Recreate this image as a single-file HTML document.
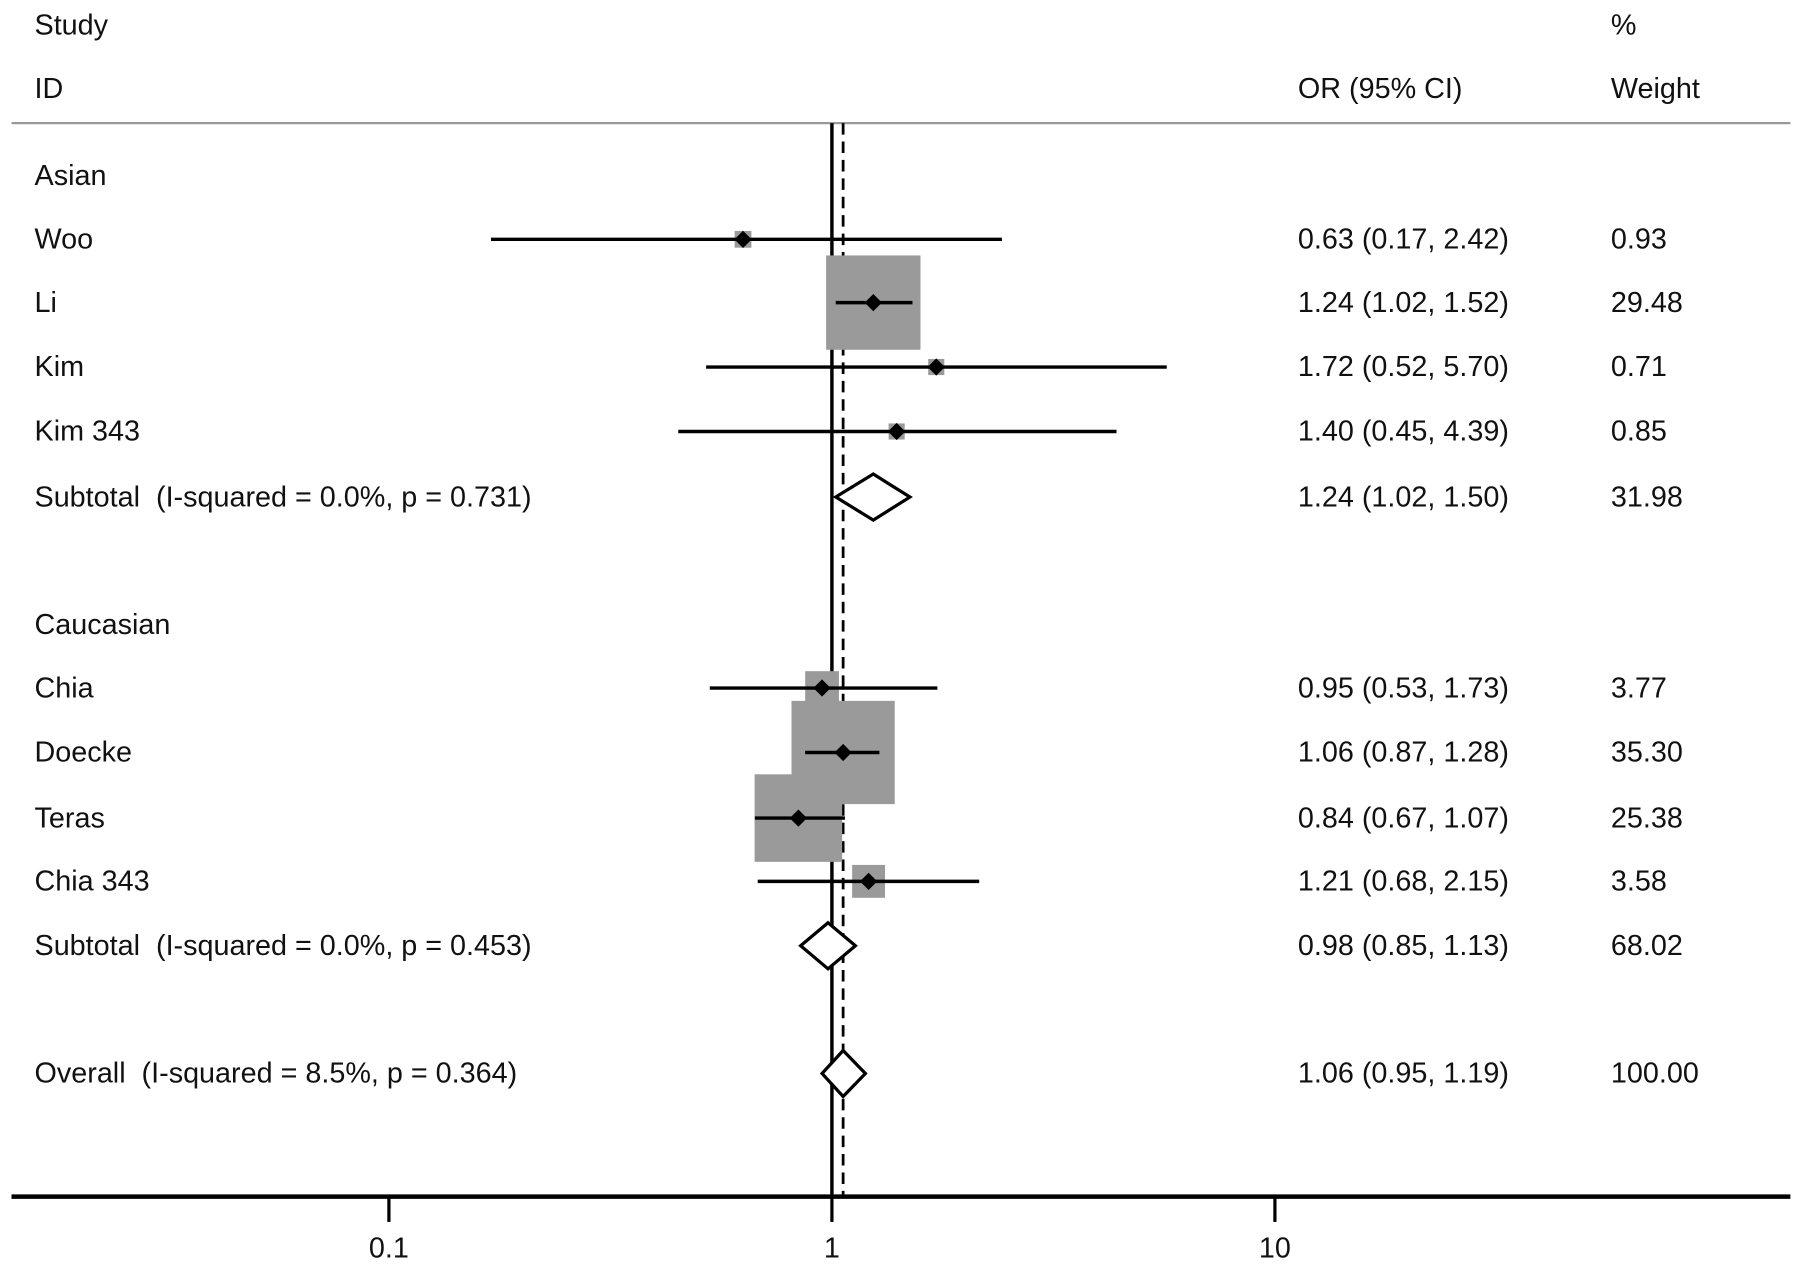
<!DOCTYPE html>
<html><head><meta charset="utf-8"><style>
html,body{margin:0;padding:0;background:#fff;}
svg{display:block;}
text{font-family:"Liberation Sans",Arial,sans-serif;font-size:25px;fill:#111;white-space:pre;}
</style></head><body>
<svg id="chart" width="1795" height="1266" viewBox="0 0 1560 1100.3" preserveAspectRatio="none" xmlns="http://www.w3.org/2000/svg" xml:space="preserve">
<g>
<text x="30" y="30">Study</text>
<text x="30" y="85">ID</text>
<text x="1128" y="85">OR (95% CI)</text>
<text x="1400" y="30">%</text>
<text x="1400" y="85">Weight</text>
<line x1="10" y1="107" x2="1556" y2="107" stroke="#999" stroke-width="2"/>
</g>
<g id="plot"></g>
</svg>
<script>
const labels=["Asian","Woo","Li","Kim","Kim 343","Subtotal  (I-squared = 0.0%, p = 0.731)","Caucasian","Chia","Doecke","Teras","Chia 343","Subtotal  (I-squared = 0.0%, p = 0.453)","Overall  (I-squared = 8.5%, p = 0.364)"];
const kinds=["head","study","study","study","study","sub","head","study","study","study","study","sub","sub"];
const rowY=[153,208,263,319,375,432,543,598,654,711,766,822,933];
const or=[null,0.63,1.24,1.72,1.40,1.24,null,0.95,1.06,0.84,1.21,0.98,1.06];
const lo=[null,0.17,1.02,0.52,0.45,1.02,null,0.53,0.87,0.67,0.68,0.85,0.95];
const hi=[null,2.42,1.52,5.70,4.39,1.50,null,1.73,1.28,1.07,2.15,1.13,1.19];
const weights=[null,0.93,29.48,0.71,0.85,31.98,null,3.77,35.30,25.38,3.58,68.02,100.00];
const tickVals=[0.1,1,10];
const tickLabels=["0.1","1","10"];
const overallOR=1.06;

const NS="http://www.w3.org/2000/svg";
const g=document.getElementById('plot');
const X=v=>723+385*Math.log10(v);
function mk(tag,attrs){const e=document.createElementNS(NS,tag);for(const k in attrs)e.setAttribute(k,attrs[k]);g.appendChild(e);return e;}
const fmt=v=>v.toFixed(2);

let e=mk('line',{x1:X(1),y1:107,x2:X(1),y2:1040,stroke:'#000','stroke-width':3});


e=mk('line',{x1:X(overallOR),y1:107,x2:X(overallOR),y2:1040,stroke:'#000','stroke-width':2.4,'stroke-dasharray':'10,6'});



for(let i=0;i<labels.length;i++){
  const y=rowY[i];
  e=mk('text',{x:30,y:y+8});e.textContent=labels[i];
  
  
  if(kinds[i]==='head')continue;
  e=mk('text',{x:1128,y:y+8});e.textContent=fmt(or[i])+' ('+fmt(lo[i])+', '+fmt(hi[i])+')';
  
  
  e=mk('text',{x:1400,y:y+8});e.textContent=fmt(weights[i]);
  
  
  const cx=X(or[i]);
  if(kinds[i]==='study'){
    const s=Math.max(14,82*Math.sqrt(weights[i]/29.48));
    e=mk('rect',{x:cx-s/2,y:y-s/2,width:s,height:s,fill:'#9a9a9a'});
    
    
    e=mk('line',{x1:X(lo[i]),y1:y,x2:X(hi[i]),y2:y,stroke:'#000','stroke-width':3});
    
    
    e=mk('polygon',{points:`${cx-7.5},${y} ${cx},${y-7.5} ${cx+7.5},${y} ${cx},${y+7.5}`,fill:'#000'});
    
    
  } else {
    e=mk('polygon',{points:`${X(lo[i])},${y} ${cx},${y-20} ${X(hi[i])},${y} ${cx},${y+20}`,fill:'#fff',stroke:'#000','stroke-width':2.8});
    
    
  }
}
e=mk('line',{x1:10,y1:1040,x2:1556,y2:1040,stroke:'#000','stroke-width':4});


for(let i=0;i<tickVals.length;i++){
  const x=X(tickVals[i]);
  e=mk('line',{x1:x,y1:1040,x2:x,y2:1062,stroke:'#000','stroke-width':2.8});
  
  
  e=mk('text',{x:x,y:1093,'text-anchor':'middle'});e.textContent=tickLabels[i];
  
  
}
</script>
</body></html>
